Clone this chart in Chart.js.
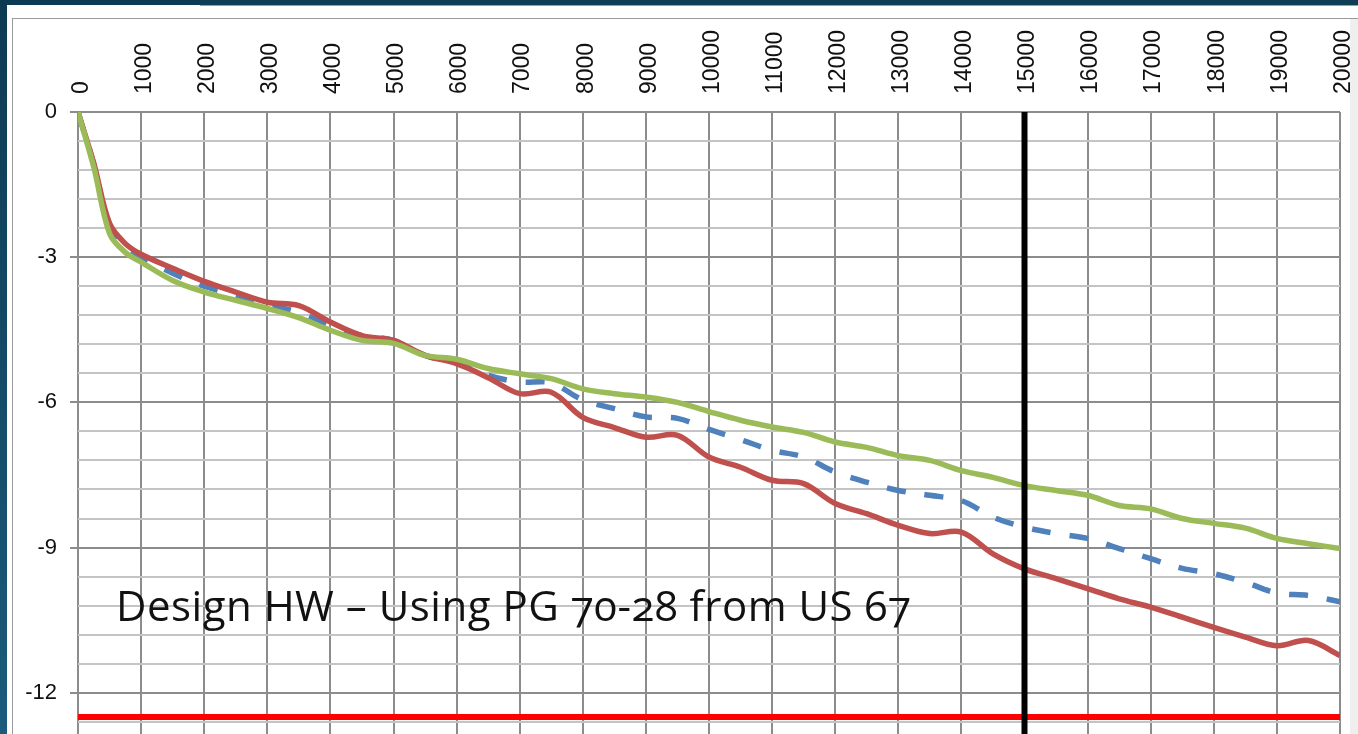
<!DOCTYPE html>
<html>
<head>
<meta charset="utf-8">
<script src="https://cdn.jsdelivr.net/npm/chart.js@4.4.1/dist/chart.umd.min.js"></script>
<style>
  html, body { margin: 0; padding: 0; width: 1358px; height: 734px; overflow: hidden; }
  body { background: linear-gradient(#0d3a53, #1b5b7b); position: relative; }
  .sheet { position: absolute; left: 7px; top: 5px; right: 0; bottom: 0; background: #fff; }
  .topbar { position: absolute; left: 200px; top: 0; right: 0; height: 5px; background: #0f3d55; border-bottom: 1px solid #b49a78; }
  .frame { position: absolute; left: 12px; top: 18px; width: 1360px; height: 760px; border-top: 1px solid #9a9a9a; border-left: 1px solid #9a9a9a; }
  .edge { position: absolute; left: 1350px; top: 19px; width: 8px; bottom: 0; background: #efefef; }
  #depthChart { position: absolute; left: 13px; top: 19px; }
  #note { position: absolute; left: 116px; top: 584px; font-family: "Open Sans", sans-serif; font-size: 42px; line-height: 42px;
          color: #111; white-space: nowrap; font-feature-settings: "onum" 1; letter-spacing: 0.5px; }
</style>
</head>
<body>
<div class="sheet"></div>
<div class="topbar"></div>
<div class="frame"></div>
<div class="edge"></div>
<canvas id="depthChart" width="1345" height="758"></canvas>
<div id="note">Design HW – Using PG 70-28 from US 67</div>
<script>
/* depth profile along the road, three cases + limit lines */

const distance = [0, 250, 500, 750, 1000, 1500, 2000, 2500, 3000, 3500, 4000, 4500, 5000, 5500, 6000, 6500,
  7000, 7500, 8000, 8500, 9000, 9500, 10000, 10500, 11000, 11500, 12000, 12500, 13000, 13500, 14000, 14500,
  15000, 15500, 16000, 16500, 17000, 17500, 18000, 18500, 19000, 19500, 20000];

const redSeries = [0, -1.06, -2.3, -2.72, -2.94, -3.23, -3.5, -3.72, -3.93, -4.0, -4.34, -4.62, -4.72, -5.03,
  -5.2, -5.49, -5.82, -5.79, -6.31, -6.52, -6.72, -6.68, -7.13, -7.34, -7.61, -7.68, -8.09, -8.3, -8.54,
  -8.71, -8.68, -9.13, -9.44, -9.64, -9.85, -10.06, -10.23, -10.44, -10.65, -10.85, -11.03, -10.92, -11.23];

const greenSeries = [0, -1.14, -2.51, -2.9, -3.1, -3.48, -3.72, -3.89, -4.06, -4.25, -4.51, -4.72, -4.78, -5.03,
  -5.11, -5.3, -5.41, -5.51, -5.72, -5.82, -5.89, -6.0, -6.19, -6.37, -6.51, -6.62, -6.82, -6.93, -7.1,
  -7.2, -7.41, -7.55, -7.72, -7.82, -7.92, -8.13, -8.2, -8.4, -8.5, -8.6, -8.81, -8.92, -9.02];

const blueSeries = [0, -1.08, -2.35, -2.78, -3.0, -3.33, -3.6, -3.78, -3.96, -4.15, -4.4, -4.62, -4.72, -5.03,
  -5.18, -5.44, -5.58, -5.6, -5.95, -6.13, -6.3, -6.33, -6.56, -6.77, -6.99, -7.13, -7.44, -7.65, -7.82,
  -7.92, -8.03, -8.37, -8.58, -8.71, -8.81, -9.02, -9.23, -9.43, -9.54, -9.72, -9.94, -9.99, -10.12];

const xTicks = [0, 1000, 2000, 3000, 4000, 5000, 6000, 7000, 8000, 9000, 10000, 11000, 12000, 13000, 14000,
  15000, 16000, 17000, 18000, 19000, 20000];
const yLabels = [0, -3, -6, -9, -12];
const yMinorStep = 0.6;
const yBottom = -13.2;

const limitDepth = -12.5;      // red horizontal line
const markerDistance = 15000;  // black vertical line

function pts(ys) {
  return distance.map((d, i) => ({ x: d, y: ys[i] }));
}

function isMajor(v) {
  return yLabels.some(l => Math.abs(l - v) < 1e-6);
}

const yGrid = [];
for (let i = 0; Math.round(i * yMinorStep * 10) <= Math.round(-yBottom * 10); i++) {
  yGrid.push(+(-i * yMinorStep).toFixed(2));
}

new Chart(document.getElementById('depthChart'), {
  type: 'line',
  data: {
    datasets: [
      {
        label: 'marker',
        data: [{ x: markerDistance, y: 0 }, { x: markerDistance, y: yBottom }],
        borderColor: '#000', borderWidth: 6, tension: 0, pointRadius: 0
      },
      {
        label: 'limit',
        data: [{ x: 0, y: limitDepth }, { x: 20000, y: limitDepth }],
        borderColor: '#ff0000', borderWidth: 6, tension: 0, pointRadius: 0
      },
      {
        label: 'green',
        data: pts(greenSeries),
        borderColor: '#9bbb59', borderWidth: 5.5, pointRadius: 0, tension: 0.35
      },
      {
        label: 'red',
        data: pts(redSeries),
        borderColor: '#c0504d', borderWidth: 5.5, pointRadius: 0, tension: 0.35
      },
      {
        label: 'blue',
        data: pts(blueSeries),
        borderColor: '#4f81bd', borderWidth: 5.5, pointRadius: 0, tension: 0.35,
        borderDash: [19, 19]
      }
    ]
  },
  options: {
    responsive: false,
    animation: false,
    layout: { padding: { left: 0, right: 17, top: 0, bottom: 10 } },
    plugins: { legend: { display: false }, tooltip: { enabled: false } },
    scales: {
      x: {
        type: 'linear',
        position: 'top',
        min: 0, max: 20000,
        afterBuildTicks: axis => { axis.ticks = xTicks.map(v => ({ value: v })); },
        afterFit: axis => { axis.height = 93; },
        border: { display: false },
        grid: { color: '#8c8c8c', lineWidth: 2, drawTicks: false },
        ticks: {
          autoSkip: false, minRotation: 90, maxRotation: 90, padding: 18, labelOffset: 31,
          color: '#111', font: { family: 'Liberation Sans', size: 23 },
          callback: v => String(v)
        }
      },
      y: {
        type: 'linear',
        min: yBottom, max: 0,
        afterBuildTicks: axis => { axis.ticks = yGrid.map(v => ({ value: v })); },
        afterFit: axis => { axis.width = 65; },
        border: { display: false },
        grid: {
          lineWidth: 2, tickLength: 8,
          color: c => isMajor(c.tick.value) ? '#8c8c8c' : '#c4c4c4',
          tickColor: c => isMajor(c.tick.value) ? '#8c8c8c' : 'rgba(0,0,0,0)'
        },
        ticks: {
          autoSkip: false, padding: 13,
          color: '#111', font: { family: 'Liberation Sans', size: 22 },
          callback: v => isMajor(v) ? String(Math.round(v)) : ''
        }
      }
    }
  }
});
</script>
</body>
</html>
